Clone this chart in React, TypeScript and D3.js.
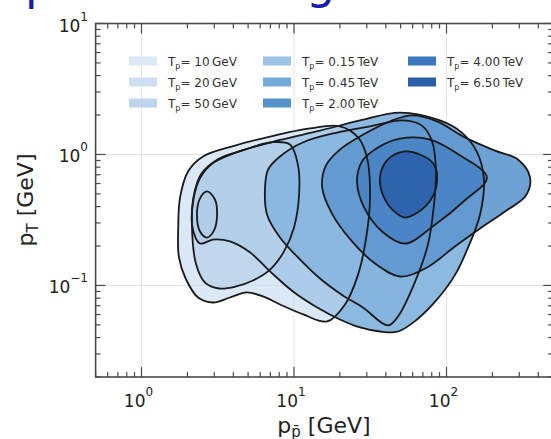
import React from "react";
import * as d3 from "d3";

const W = 551;
const H = 439;

const xDomain: [number, number] = [0.5, 500];
const yDomain: [number, number] = [0.02, 10];
const xMajor = [1, 10, 100];
const xExp = ["0", "1", "2"];
const yMajor = [0.1, 1, 10];
const yExp = ["\u22121", "0", "1"];

const legendLabels = ["10\u2009GeV", "20\u2009GeV", "50\u2009GeV", "0.15\u2009TeV", "0.45\u2009TeV", "2.00\u2009TeV", "4.00\u2009TeV", "6.50\u2009TeV"];
const legendColors = ["#dce8f5", "#cddff0", "#bcd5ec", "#9fc5e6", "#74aad9", "#5892cc", "#3b77bd", "#2a5ea9"];

// contour outlines [p (GeV), pT (GeV)]
const tp10GeV: [number, number][] = [[2.69,0.522],[3.03,0.453],[3.13,0.348],[2.99,0.263],[2.69,0.232],[2.42,0.258],[2.31,0.348],[2.42,0.462]];
const tp20GeV: [number, number][] = [[2.94,0.224],[2.42,0.209],[2.16,0.277],[2.19,0.453],[2.42,0.66],[2.90,0.85],[4.42,1.06],[8.09,1.29],[14.8,1.52],[27.1,1.82],[49.6,2.09],[90.6,1.82],[126,1.47],[158,1.05],[176,0.644],[166,0.348],[143,0.213],[114,0.121],[86.7,0.0782],[64.1,0.055],[48.1,0.0445],[36.6,0.0445],[27.1,0.0478],[20.0,0.055],[14.2,0.0679],[9.84,0.09],[6.96,0.128],[5.14,0.179],[3.80,0.217]];
const tp50GeV: [number, number][] = [[2.14,0.292],[2.19,0.47],[2.45,0.703],[3.17,0.92],[4.77,1.09],[7.17,1.24],[9.41,1.19],[10.6,0.839],[10.8,0.495],[10.0,0.277],[8.6,0.182],[6.96,0.132],[5.38,0.109],[4.17,0.0983],[3.22,0.0948],[2.61,0.105],[2.28,0.145]];
const tp150GeV: [number, number][] = [[1.74,0.268],[1.79,0.47],[2.02,0.742],[2.53,0.966],[4.10,1.17],[6.96,1.37],[12.7,1.58],[20.0,1.64],[26.3,1.35],[30.1,0.949],[31.5,0.453],[29.6,0.224],[26.3,0.121],[21.6,0.0716],[16.5,0.0531],[11.5,0.0601],[8.09,0.0716],[6.26,0.0824],[4.92,0.0885],[3.80,0.0809],[2.94,0.0741],[2.35,0.0809],[1.96,0.111],[1.76,0.164]];
const tp450GeV: [number, number][] = [[6.45,0.541],[6.76,0.768],[8.09,0.966],[11.5,1.24],[19.1,1.47],[31.5,1.64],[51.9,1.82],[69.0,1.66],[80.4,1.26],[85.3,0.742],[82.8,0.415],[75.6,0.206],[61.2,0.102],[48.1,0.058],[41.3,0.0495],[28.3,0.0679],[20.9,0.0839],[14.8,0.113],[10.5,0.166],[8.09,0.232],[6.65,0.348]];
const tp2TeV: [number, number][] = [[15.3,0.56],[16.2,0.824],[20.0,1.09],[27.9,1.40],[42.6,1.79],[59.4,1.99],[86.7,1.79],[132,1.35],[208,1.07],[294,0.916],[353,0.667],[332,0.486],[242,0.367],[166,0.272],[114,0.199],[74.5,0.137],[49.6,0.117],[34.5,0.145],[24.0,0.217],[17.7,0.355]];
const tp4TeV: [number, number][] = [[25.9,0.622],[27.9,0.884],[35.6,1.13],[49.6,1.32],[78.0,1.30],[123,0.983],[184,0.667],[134,0.453],[82.8,0.287],[53.5,0.209],[37.8,0.258],[28.8,0.394]];
const tp6500GeV: [number, number][] = [[51.9,1.05],[67.0,1.0],[82.8,0.839],[86.7,0.622],[79.1,0.453],[65.0,0.362],[53.5,0.33],[44.6,0.374],[38.4,0.486],[36.6,0.667],[40.7,0.9]];

// drawing order (back to front), fill colour and opacity of each region
const layers: { pts: [number, number][]; fill: string; op: number }[] = [
  { pts: tp20GeV, fill: "#8cb9e0", op: 1 },
  { pts: tp150GeV, fill: "#c3d9ee", op: 0.6 },
  { pts: tp50GeV, fill: "#b6d0ea", op: 0.7 },
  { pts: tp10GeV, fill: "#b0cce8", op: 0.7 },
  { pts: tp450GeV, fill: "#84b4de", op: 0.85 },
  { pts: tp2TeV, fill: "#5e97cf", op: 0.9 },
  { pts: tp4TeV, fill: "#4884c4", op: 0.92 },
  { pts: tp6500GeV, fill: "#2d62ad", op: 0.96 },
];

const FONT = "DejaVu Sans";

export default function App() {
  const left = 95.6, right = 553.1, top = 23.5, bottom = 377;
  const x = d3.scaleLog().domain(xDomain).range([left, right]);
  const y = d3.scaleLog().domain(yDomain).range([bottom, top]);
  const line = d3
    .line<[number, number]>()
    .x((d) => x(d[0]))
    .y((d) => y(d[1]))
    .curve(d3.curveCatmullRomClosed.alpha(0.5));

  const xTicks = x.ticks();
  const yTicks = y.ticks();
  const isMajor = (v: number) => Math.abs(Math.log10(v) - Math.round(Math.log10(v))) < 1e-6;

  const legendPos = [
    [0, 0], [0, 1], [0, 2], [1, 0], [1, 1], [1, 2], [2, 0], [2, 1],
  ];
  const swX = [129, 263, 408];
  const rowY = [61, 82, 103];

  return (
    <svg width={W} height={H} style={{ position: "absolute", left: 0, top: 0, background: "#fff" }}>
      {/* clipped slide title */}
      <text x={25} y={-1} fontFamily={FONT} fontSize={46} fill="#1c1ca6">p</text>
      <text x={306} y={-2} fontFamily={FONT} fontSize={46} fill="#1c1ca6">g</text>

      {/* grid */}
      {xMajor.map((v) => (
        <line key={"gx" + v} x1={x(v)} x2={x(v)} y1={top} y2={bottom} stroke="#e4e4e4" strokeWidth={1} />
      ))}
      {yMajor.slice(0, 2).map((v) => (
        <line key={"gy" + v} x1={left} x2={right} y1={y(v)} y2={y(v)} stroke="#e4e4e4" strokeWidth={1} />
      ))}

      {/* contour fills */}
      {layers.map((l, i) => (
        <path key={"f" + i} d={line(l.pts) || ""} fill={l.fill} fillOpacity={l.op} stroke="none" />
      ))}
      {layers.map((l, i) => (
        <path key={"s" + i} d={line(l.pts) || ""} fill="none" stroke="#1a1a1a" strokeWidth={1.8} />
      ))}

      {/* frame */}
      <rect x={left} y={top} width={right - left} height={bottom - top} fill="none" stroke="#4a4a4a" strokeWidth={1.6} />

      {/* ticks */}
      {xTicks.map((v, i) => {
        const L = isMajor(v) ? 10 : 5;
        return (
          <g key={"xt" + i} stroke="#4a4a4a" strokeWidth={1.2}>
            <line x1={x(v)} x2={x(v)} y1={bottom} y2={bottom - L} />
            <line x1={x(v)} x2={x(v)} y1={top} y2={top + L} />
          </g>
        );
      })}
      {yTicks.map((v, i) => {
        const L = isMajor(v) ? 10 : 5;
        return (
          <g key={"yt" + i} stroke="#4a4a4a" strokeWidth={1.2}>
            <line x1={left} x2={left + L} y1={y(v)} y2={y(v)} />
            <line x1={right} x2={right - L} y1={y(v)} y2={y(v)} />
          </g>
        );
      })}

      {/* tick labels */}
      {xMajor.map((v, i) => (
        <text key={"xl" + v} x={x(v) - 3} y={407} textAnchor="middle" fontFamily={FONT} fontSize={17} fill="#222">
          10<tspan dy={-11} fontSize={12}>{xExp[i]}</tspan>
        </text>
      ))}
      {yMajor.map((v, i) => (
        <text key={"yl" + v} x={88} y={y(v) + 8} textAnchor="end" fontFamily={FONT} fontSize={17} fill="#222">
          10<tspan dy={-11} fontSize={12}>{yExp[i]}</tspan>
        </text>
      ))}

      {/* axis titles */}
      <text x={324} y={433} textAnchor="middle" fontFamily={FONT} fontSize={22} fill="#222">
        p<tspan fontSize={15} dy={4}>p&#772;</tspan>
        <tspan dy={-4}> [GeV]</tspan>
      </text>
      <text transform="translate(33,200) rotate(-90)" textAnchor="middle" fontFamily={FONT} fontSize={22} fill="#222">
        p<tspan fontSize={15} dy={5}>T</tspan>
        <tspan dy={-5}> [GeV]</tspan>
      </text>

      {/* legend */}
      {legendLabels.map((lab, i) => {
        const [c, r] = legendPos[i];
        const sx = swX[c];
        const cy = rowY[r];
        return (
          <g key={"lg" + i}>
            <rect x={sx} y={cy - 4.5} width={28} height={9} fill={legendColors[i]} />
            <text x={sx + 39} y={cy + 4.5} fontFamily={FONT} fontSize={12} fill="#333">
              T<tspan fontSize={8} dy={3}>p</tspan>
              <tspan dy={-3}>{"= " + lab}</tspan>
            </text>
          </g>
        );
      })}
    </svg>
  );
}
